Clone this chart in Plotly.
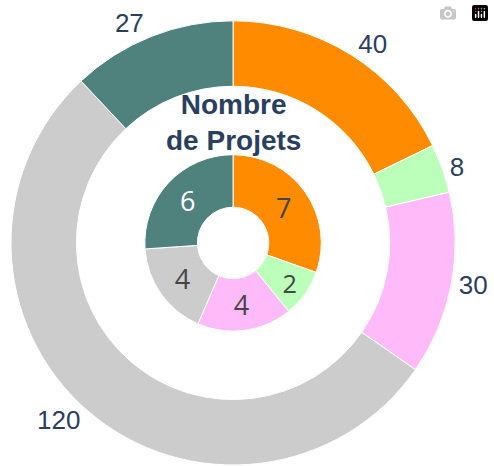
import plotly.graph_objects as go

categories = ["A", "B", "C", "D", "E"]
outer_values = [40, 8, 30, 120, 27]
inner_values = [7, 2, 4, 4, 6]
colors = ["#FF8C00", "#BBFFBB", "#FFBBF9", "#CCCCCC", "#50827D"]
title_text = "Nombre<br>de Projets"

W, H = 494, 470
cx, cy_top = 234, 245
r_out = 224
r_in = 89
cy_b = H - cy_top

fig = go.Figure()
fig.add_trace(go.Pie(
    labels=categories, values=outer_values, sort=False, direction="clockwise",
    rotation=0, hole=158 / r_out,
    marker=dict(colors=colors, line=dict(color="white", width=1)),
    textinfo="value", textposition="outside",
    textfont=dict(family="Liberation Sans, Arial", size=26, color="#2a3f5f"),
    domain=dict(x=[(cx - r_out) / W, (cx + r_out) / W], y=[(cy_b - r_out) / H, (cy_b + r_out) / H]),
    showlegend=False, hoverinfo="label+value",
))
fig.add_trace(go.Pie(
    labels=categories, values=inner_values, sort=False, direction="clockwise",
    rotation=0, hole=36 / r_in,
    marker=dict(colors=colors, line=dict(color="white", width=1)),
    textinfo="value", textposition="inside", insidetextorientation="horizontal",
    textfont=dict(family="Open Sans", size=27),
    domain=dict(x=[(cx - r_in) / W, (cx + r_in) / W], y=[(cy_b - r_in) / H, (cy_b + r_in) / H]),
    showlegend=False, hoverinfo="label+value",
))
fig.add_annotation(
    x=234 / W, y=1 - 124 / H, xref="paper", yref="paper", text="<b>" + title_text + "</b>",
    showarrow=False, font=dict(family="Liberation Sans, Arial", size=28, color="#2a3f5f"),
    xanchor="center", yanchor="middle",
)
fig.update_layout(
    width=W, height=H, margin=dict(l=0, r=0, t=0, b=0),
    paper_bgcolor="white", plot_bgcolor="white",
)
fig.write_html(
    "out.html",
    post_script="document.body.style.margin='0px';document.body.style.overflow='hidden';",
)
